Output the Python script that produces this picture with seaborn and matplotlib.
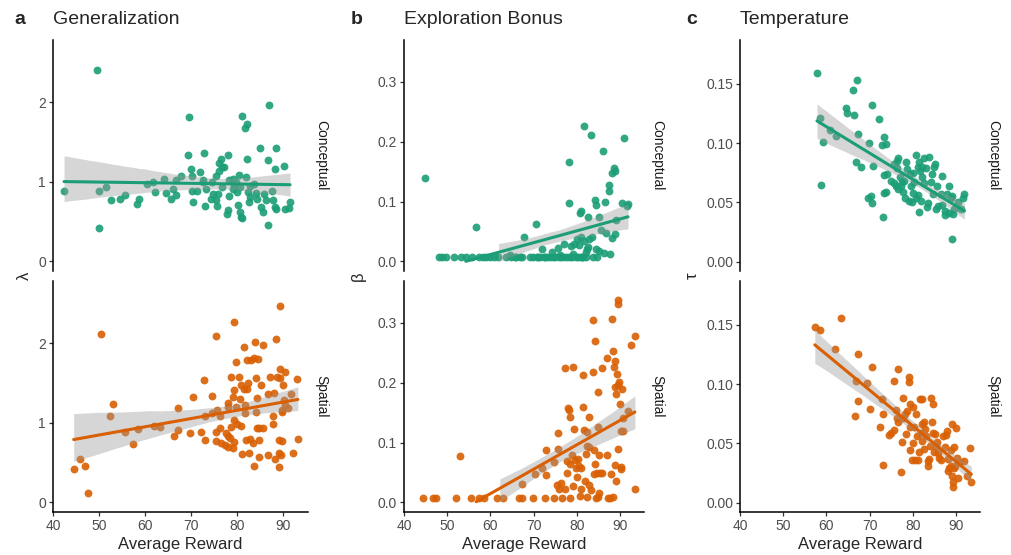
import numpy as np
import matplotlib
matplotlib.use("Agg")
import matplotlib.pyplot as plt
import seaborn as sns

# ---------------- DATA ----------------
rows = ["Conceptual", "Spatial"]
panel_letters = ["a", "b", "c"]
panel_titles = ["Generalization", "Exploration Bonus", "Temperature"]
y_labels = ["λ", "β", "τ"]
x_label = "Average Reward"
x_ticks = [40, 50, 60, 70, 80, 90]

# a: generalization (lambda)
gen_con_x = [42.4, 49.6, 50.0, 50.1, 51.6, 52.7, 54.5, 55.7, 58.3, 58.8,
             60.4, 61.8, 62.2, 64.2, 64.5, 65.7, 66.1, 66.7, 67.8, 66.7,
             69.3, 69.6, 70.0, 70.3, 70.4, 70.3, 71.9, 71.4, 72.8, 73.0,
             72.6, 73.3, 74.5, 74.8, 75.5, 75.4, 75.7, 75.9, 76.2, 76.6,
             76.8, 76.2, 77.3, 78.0, 78.3, 78.0, 77.9, 76.8, 78.4, 79.1,
             79.5, 79.9, 80.2, 80.4, 80.6, 80.7, 81.0, 81.2, 81.2, 81.7,
             82.3, 82.0, 82.2, 82.4, 82.6, 82.8, 82.9, 83.8, 84.1, 84.4,
             85.1, 85.3, 85.7, 86.0, 86.4, 86.9, 87.1, 86.9, 87.6, 87.8,
             88.3, 88.4, 88.6, 88.6, 90.2, 90.5, 91.3, 91.6, 79.1, 80.0,
             74.4, 72.6]
gen_con_y = [0.89, 2.40, 0.42, 0.89, 0.94, 0.77, 0.78, 0.84, 0.72, 0.79,
             0.97, 1.00, 0.87, 1.04, 0.86, 0.79, 0.91, 0.83, 1.07, 1.02,
             1.33, 1.81, 1.16, 1.07, 0.74, 0.88, 1.12, 0.89, 1.36, 0.69,
             1.02, 0.91, 1.00, 0.85, 1.07, 0.77, 0.70, 0.85, 1.23, 1.29,
             1.18, 1.14, 1.18, 1.33, 0.82, 0.64, 0.59, 0.93, 1.02, 1.04,
             0.95, 1.00, 0.71, 1.08, 0.93, 0.62, 0.56, 0.54, 1.82, 1.67,
             1.72, 1.06, 1.28, 0.87, 0.74, 0.95, 0.81, 0.97, 0.86, 0.79,
             1.43, 0.68, 0.62, 0.85, 0.77, 1.27, 1.97, 0.46, 0.88, 0.77,
             0.68, 1.16, 1.42, 0.66, 1.20, 0.66, 0.67, 0.75, 0.91, 0.87,
             0.79, 1.00]
gen_spa_x = [44.5, 45.8, 46.9, 47.6, 50.4, 52.3, 53.1, 55.7, 57.4, 58.5,
             61.9, 63.2, 66.4, 67.2, 67.3, 69.9, 70.4, 72.2, 72.8, 73.1,
             73.0, 74.7, 74.5, 75.5, 75.5, 75.5, 75.8, 76.3, 76.3, 76.5,
             77.4, 77.7, 78.0, 78.1, 78.0, 78.0, 78.5, 78.8, 79.1, 79.2,
             79.3, 79.4, 79.3, 79.4, 78.8, 79.8, 79.9, 80.1, 80.4, 80.7,
             80.9, 81.0, 81.2, 81.5, 81.5, 81.7, 81.8, 82.0, 82.2, 82.3,
             82.5, 82.6, 82.9, 83.2, 83.6, 83.8, 83.9, 83.7, 84.1, 84.2,
             84.4, 84.5, 84.7, 84.8, 84.9, 85.2, 85.6, 85.8, 84.9, 86.8,
             86.9, 87.2, 87.9, 87.8, 88.0, 88.3, 88.5, 88.8, 89.1, 89.1,
             89.2, 89.3, 89.5, 89.5, 89.6, 89.8, 89.8, 89.9, 90.1, 90.2,
             90.5, 90.4, 91.7, 92.3, 93.2, 93.3, 91.2]
gen_spa_y = [0.42, 0.55, 0.46, 0.12, 2.11, 1.09, 1.24, 0.88, 0.73, 0.92,
             0.96, 0.95, 0.83, 0.91, 1.19, 0.87, 1.33, 0.88, 1.54, 0.78,
             1.08, 1.34, 1.12, 2.09, 0.88, 0.77, 1.16, 1.08, 0.94, 0.74,
             0.72, 0.87, 1.25, 1.20, 0.83, 0.70, 0.81, 1.58, 0.68, 1.33,
             1.41, 2.27, 0.76, 1.04, 0.95, 1.20, 1.76, 0.99, 1.57, 1.30,
             0.96, 1.48, 0.61, 1.95, 1.42, 1.22, 1.12, 0.78, 1.79, 1.42,
             1.50, 0.62, 0.80, 1.79, 0.74, 1.81, 2.02, 0.46, 1.13, 1.56,
             0.94, 1.31, 1.80, 0.79, 0.57, 1.47, 1.98, 0.94, 0.94, 0.59,
             1.36, 1.58, 1.09, 0.98, 1.37, 0.55, 2.05, 1.58, 0.62, 0.44,
             0.78, 1.56, 1.67, 2.47, 0.60, 0.77, 1.16, 1.13, 1.48, 1.29,
             1.64, 1.22, 1.36, 0.62, 1.55, 0.80, 1.19]

# b: exploration bonus (beta)
bonus_con_x = [44.8, 48.0, 48.7, 49.8, 51.6, 53.2, 54.3, 55.7, 56.6, 57.4,
               58.2, 59.0, 59.9, 60.8, 61.7, 63.7, 64.5, 64.8, 65.6, 66.0,
               66.8, 67.2, 67.8, 69.1, 69.9, 70.6, 70.7, 71.5, 72.0, 72.3,
               73.0, 73.7, 74.2, 74.4, 75.0, 75.6, 75.8, 76.3, 77.0, 77.1,
               77.7, 78.2, 78.2, 78.4, 78.6, 78.9, 79.3, 79.7, 80.1, 80.2,
               80.5, 80.7, 80.9, 80.9, 81.0, 81.5, 81.6, 81.7, 82.0, 82.0,
               82.4, 82.6, 82.6, 82.8, 83.3, 83.4, 83.6, 84.2, 84.4, 84.4,
               84.6, 85.0, 85.1, 85.5, 86.0, 86.3, 86.5, 86.7, 87.3, 87.4,
               87.7, 88.0, 88.2, 88.5, 88.8, 88.9, 89.1, 90.5, 90.9, 91.6,
               91.8, 71.0, 72.6, 76.0, 79.0, 81.2]
bonus_con_y = [0.140, 0.007, 0.007, 0.007, 0.007, 0.008, 0.007, 0.007, 0.057, 0.007,
               0.007, 0.007, 0.007, 0.007, 0.007, 0.007, 0.010, 0.007, 0.007, 0.007,
               0.008, 0.008, 0.040, 0.007, 0.007, 0.063, 0.007, 0.007, 0.020, 0.007,
               0.007, 0.007, 0.016, 0.007, 0.007, 0.023, 0.007, 0.007, 0.007, 0.029,
               0.007, 0.166, 0.098, 0.007, 0.025, 0.007, 0.029, 0.007, 0.038, 0.007,
               0.027, 0.081, 0.007, 0.040, 0.085, 0.007, 0.227, 0.034, 0.007, 0.016,
               0.021, 0.074, 0.024, 0.038, 0.211, 0.040, 0.007, 0.103, 0.095, 0.021,
               0.007, 0.075, 0.017, 0.053, 0.185, 0.014, 0.099, 0.048, 0.117, 0.127,
               0.012, 0.039, 0.147, 0.156, 0.045, 0.151, 0.070, 0.098, 0.206, 0.093,
               0.096, 0.007, 0.007, 0.010, 0.012, 0.007]
bonus_spa_x = [44.3, 46.7, 47.4, 52.1, 52.9, 55.6, 57.3, 58.4, 61.6, 62.9,
               66.6, 67.2, 67.2, 69.8, 70.3, 72.7, 74.6, 76.6, 78.4, 71.9,
               72.9, 72.9, 74.6, 75.4, 75.5, 75.5, 75.8, 76.2, 77.3, 77.3,
               77.7, 77.7, 77.9, 78.2, 78.4, 78.5, 78.8, 79.1, 79.1, 79.3,
               79.5, 79.7, 79.9, 80.2, 80.5, 80.7, 80.9, 81.0, 81.3, 81.5,
               81.6, 81.9, 82.0, 82.3, 82.3, 82.4, 82.7, 82.8, 82.8, 83.2,
               83.6, 83.6, 83.9, 84.0, 84.1, 84.2, 84.3, 84.6, 84.8, 84.8,
               84.9, 85.1, 85.2, 85.4, 85.7, 85.8, 86.9, 87.0, 87.1, 87.7,
               87.9, 88.1, 88.3, 88.4, 88.5, 88.7, 88.8, 88.9, 89.0, 89.1,
               89.3, 89.5, 89.5, 89.5, 89.6, 89.8, 89.9, 90.1, 90.2, 90.4,
               90.6, 90.1, 90.7, 91.8, 92.4, 93.4, 93.4]
bonus_spa_y = [0.007, 0.007, 0.007, 0.007, 0.078, 0.007, 0.007, 0.007, 0.007, 0.007,
               0.007, 0.007, 0.030, 0.007, 0.047, 0.007, 0.007, 0.007, 0.007, 0.058,
               0.088, 0.046, 0.067, 0.029, 0.090, 0.116, 0.023, 0.033, 0.022, 0.225,
               0.050, 0.070, 0.158, 0.155, 0.142, 0.065, 0.079, 0.226, 0.027, 0.122,
               0.071, 0.057, 0.042, 0.073, 0.061, 0.011, 0.022, 0.057, 0.213, 0.160,
               0.121, 0.036, 0.081, 0.094, 0.009, 0.118, 0.143, 0.093, 0.029, 0.021,
               0.218, 0.304, 0.048, 0.087, 0.270, 0.065, 0.007, 0.049, 0.126, 0.185,
               0.009, 0.015, 0.079, 0.049, 0.049, 0.225, 0.242, 0.079, 0.007, 0.007,
               0.047, 0.307, 0.253, 0.009, 0.226, 0.193, 0.063, 0.236, 0.036, 0.181,
               0.215, 0.338, 0.331, 0.090, 0.196, 0.201, 0.165, 0.060, 0.119, 0.190,
               0.141, 0.056, 0.119, 0.152, 0.263, 0.278, 0.023]

# c: temperature (tau)
temp_con_x = [57.8, 58.5, 58.7, 59.1, 60.8, 62.3, 64.5, 64.7, 66.1, 66.4,
              67.1, 67.2, 66.8, 67.9, 69.8, 69.5, 70.5, 70.4, 70.5, 70.8,
              72.2, 72.8, 73.0, 73.2, 73.4, 73.4, 73.7, 73.7, 74.1, 75.0,
              75.6, 75.7, 76.0, 76.2, 76.5, 76.4, 76.6, 77.0, 77.2, 77.4,
              77.7, 77.9, 78.1, 78.3, 78.7, 79.0, 79.3, 79.5, 79.7, 79.9,
              80.0, 80.3, 80.6, 80.7, 81.1, 81.2, 81.4, 81.5, 81.7, 82.0,
              82.2, 82.5, 82.6, 83.0, 83.2, 83.5, 83.8, 84.2, 84.3, 84.6,
              84.9, 85.1, 85.3, 85.6, 85.7, 86.5, 86.8, 86.6, 87.3, 87.5,
              87.9, 88.4, 88.7, 89.0, 89.1, 89.2, 89.6, 90.4, 91.0, 91.6,
              91.9, 88.3, 81.8]
temp_con_y = [0.159, 0.121, 0.065, 0.101, 0.111, 0.106, 0.130, 0.125, 0.145, 0.124,
              0.153, 0.108, 0.084, 0.080, 0.100, 0.054, 0.132, 0.055, 0.049, 0.081,
              0.120, 0.098, 0.038, 0.073, 0.058, 0.105, 0.099, 0.059, 0.074, 0.068,
              0.066, 0.082, 0.064, 0.085, 0.087, 0.079, 0.061, 0.071, 0.064, 0.067,
              0.059, 0.068, 0.054, 0.084, 0.078, 0.051, 0.074, 0.064, 0.050, 0.058,
              0.075, 0.067, 0.054, 0.090, 0.056, 0.080, 0.084, 0.042, 0.076, 0.080,
              0.071, 0.087, 0.066, 0.079, 0.046, 0.049, 0.088, 0.067, 0.074, 0.057,
              0.080, 0.082, 0.044, 0.064, 0.047, 0.057, 0.072, 0.048, 0.043, 0.039,
              0.057, 0.041, 0.054, 0.019, 0.055, 0.040, 0.044, 0.050, 0.044, 0.054,
              0.057, 0.064, 0.051]
temp_spa_x = [57.3, 58.5, 61.9, 63.3, 66.8, 67.3, 66.5, 67.3, 69.4, 70.0,
              70.5, 72.3, 72.9, 73.1, 73.0, 74.5, 74.9, 75.6, 75.7, 76.0,
              76.3, 76.6, 76.5, 77.3, 77.5, 77.7, 77.8, 78.1, 78.4, 78.7,
              79.0, 79.0, 79.2, 79.3, 79.4, 79.7, 79.9, 80.0, 80.3, 80.4,
              80.6, 80.9, 81.2, 81.5, 81.7, 81.8, 82.0, 82.1, 82.2, 82.5,
              82.6, 82.8, 83.0, 83.4, 83.5, 83.7, 84.0, 84.2, 84.3, 84.6,
              84.7, 84.9, 85.1, 85.3, 85.6, 85.7, 86.1, 86.5, 86.9, 87.4,
              87.7, 87.9, 88.1, 88.2, 88.4, 88.7, 88.8, 89.0, 89.1, 89.2,
              89.3, 89.5, 89.6, 89.8, 90.0, 90.2, 90.5, 90.8, 91.8, 92.4,
              93.3, 93.5]
temp_spa_y = [0.148, 0.146, 0.130, 0.156, 0.103, 0.125, 0.073, 0.086, 0.101, 0.079,
              0.114, 0.064, 0.087, 0.075, 0.032, 0.057, 0.059, 0.103, 0.061, 0.078,
              0.071, 0.068, 0.113, 0.026, 0.051, 0.088, 0.071, 0.075, 0.058, 0.077,
              0.106, 0.102, 0.044, 0.083, 0.064, 0.036, 0.081, 0.050, 0.064, 0.036,
              0.075, 0.056, 0.036, 0.043, 0.087, 0.059, 0.066, 0.052, 0.087, 0.068,
              0.045, 0.062, 0.056, 0.035, 0.031, 0.037, 0.048, 0.088, 0.068, 0.083,
              0.059, 0.043, 0.058, 0.048, 0.051, 0.042, 0.038, 0.036, 0.056, 0.047,
              0.057, 0.060, 0.027, 0.037, 0.029, 0.031, 0.044, 0.066, 0.022, 0.013,
              0.017, 0.029, 0.047, 0.031, 0.063, 0.038, 0.021, 0.034, 0.035, 0.022,
              0.046, 0.017]

# ---------------- STYLE ----------------
sns.set_theme(style="ticks")
plt.rcParams['font.family'] = ['Liberation Sans', 'DejaVu Sans']

colors = {"Conceptual": "#1b9e77", "Spatial": "#d95f02"}
W, H = 1012, 555

# pixel layout per column: left, right, ylim, yticks, tick format, letter x, ylabel x
columns = [
    dict(left=53, right=308, ylim=(-0.12, 2.78), yticks=[0, 1, 2], fmt="{:.0f}",
         letter_x=14, ylab_x=24, clip_zero=False,
         data={"Conceptual": (gen_con_x, gen_con_y), "Spatial": (gen_spa_x, gen_spa_y)}),
    dict(left=404, right=644, ylim=(-0.016, 0.37), yticks=[0.0, 0.1, 0.2, 0.3], fmt="{:.1f}",
         letter_x=351, ylab_x=358, clip_zero=True,
         data={"Conceptual": (bonus_con_x, bonus_con_y), "Spatial": (bonus_spa_x, bonus_spa_y)}),
    dict(left=740, right=980, ylim=(-0.008, 0.187), yticks=[0.00, 0.05, 0.10, 0.15], fmt="{:.2f}",
         letter_x=686, ylab_x=692, clip_zero=False,
         data={"Conceptual": (temp_con_x, temp_con_y), "Spatial": (temp_spa_x, temp_spa_y)}),
]
row_px = [(40, 271), (281, 512)]
xlim = (40, 95.5)

fig = plt.figure(figsize=(W / 100, H / 100), dpi=100)


def px_axes(x0, y0, x1, y1):
    return fig.add_axes([x0 / W, 1 - y1 / H, (x1 - x0) / W, (y1 - y0) / H])


def draw_panel(ax, x, y, color, clip_zero):
    sns.regplot(x=np.array(x), y=np.array(y), ax=ax, color=color, ci=95,
                n_boot=1000, seed=1, truncate=True,
                scatter_kws=dict(s=32, alpha=0.9, linewidths=0),
                line_kws=dict(lw=2.2))
    line = ax.lines[-1]
    band = ax.collections[-1]
    grid = np.asarray(line.get_xdata(), dtype=float)
    yhat = np.asarray(line.get_ydata(), dtype=float)
    verts = band.get_paths()[0].vertices
    lower = np.array([verts[np.isclose(verts[:, 0], g), 1].min() for g in grid])
    upper = np.array([verts[np.isclose(verts[:, 0], g), 1].max() for g in grid])
    band.remove()
    keep = np.ones_like(grid, dtype=bool)
    if clip_zero:
        # values outside the scale limits are dropped, like ggplot does
        keep = lower >= 0
        yhat = np.where(yhat >= 0, yhat, np.nan)
        line.set_ydata(yhat)
    ax.fill_between(grid, lower, upper, where=keep, color="#999999", alpha=0.4,
                    lw=0, zorder=1)
    line.set_zorder(3)


for ci, col in enumerate(columns):
    for ri, row in enumerate(rows):
        y0, y1 = row_px[ri]
        ax = px_axes(col["left"], y0, col["right"], y1)
        xs, ys = col["data"][row]
        draw_panel(ax, xs, ys, colors[row], col["clip_zero"])

        ax.set_xlim(*xlim)
        ax.set_ylim(*col["ylim"])
        ax.set_yticks(col["yticks"])
        ax.set_yticklabels([col["fmt"].format(v) for v in col["yticks"]])
        ax.set_xlabel("")
        ax.set_ylabel("")
        sns.despine(ax=ax)
        for s in ["left", "bottom"]:
            ax.spines[s].set_color("black")
            ax.spines[s].set_linewidth(1.1)
        ax.tick_params(direction="out", length=3, width=0.9, color="#333333",
                       labelcolor="#4d4d4d", labelsize=10, pad=2)
        if ri == 0:
            ax.spines["bottom"].set_visible(False)
            ax.set_xticks([])
        else:
            ax.set_xticks(x_ticks)
        ax.set_facecolor("white")

        # facet strip label on the right
        fig.text((col["right"] + 13) / W, 1 - (y0 + y1) / 2 / H, row, rotation=-90,
                 ha="center", va="center", fontsize=10, color="#1a1a1a")

    fig.text(col["letter_x"] / W, 1 - 20 / H, panel_letters[ci], fontsize=14,
             fontweight="bold", ha="left", va="center")
    fig.text(col["left"] / W, 1 - 20 / H, panel_titles[ci], fontsize=14,
             ha="left", va="center")
    fig.text(col["ylab_x"] / W, 1 - 276 / H, y_labels[ci], fontsize=12,
             rotation=90, ha="center", va="center")
    fig.text((col["left"] + col["right"]) / 2 / W, 1 - 545 / H, x_label,
             fontsize=12, ha="center", va="center")

fig.savefig("out.png", dpi=100, facecolor="white")
